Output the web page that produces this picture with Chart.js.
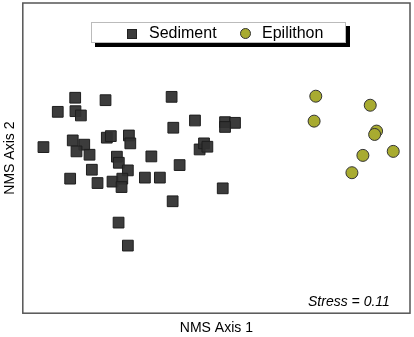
<!DOCTYPE html>
<html>
<head>
<meta charset="utf-8">
<script src="https://cdn.jsdelivr.net/npm/chart.js@4.4.1/dist/chart.umd.min.js"></script>
<style>
    html, body { margin: 0; padding: 0; background: #fff; }
    #wrap { position: relative; width: 414px; height: 337px; font-family: Arial, "Liberation Sans", sans-serif; }
    #legend {
        position: absolute; left: 91px; top: 22px; width: 253px; height: 19px;
        border: 1px solid #bbb; background: #fff; box-shadow: 4px 4px 0 #000;
        font-size: 16px; line-height: 19px; color: #000;
    }
    #legend .item { position: absolute; top: 0; }
    #legend .sq { position: absolute; top: 6px; width: 8px; height: 8px; background: #3c3c3c; border: 1px solid #222; }
    #legend .ci { position: absolute; top: 5px; width: 9px; height: 9px; border-radius: 50%; background: #a8ab30; border: 1px solid #333; }
    #stress { position: absolute; left: 308px; top: 293px; font-size: 14px; font-style: italic; color: #000; }
</style>
</head>
<body>
<div id="wrap">
    <canvas id="c" width="414" height="337"></canvas>
    <div id="legend">
        <span class="sq" style="left:35px"></span>
        <span class="item" style="left:57px">Sediment</span>
        <span class="ci" style="left:148px"></span>
        <span class="item" style="left:170px">Epilithon</span>
    </div>
    <div id="stress">Stress = 0.11</div>
</div>
<script>
    // NMS scores
    const sedimentX = [-1.094, -0.859, -0.347, -1.229, -1.092, -1.050, -0.334, -0.166, 0.067, 0.144,
        0.067, -1.340, -1.113, -1.024, -1.084, -0.983, -0.849, -0.818, -0.678, -0.667,
        -0.504, -0.130, -0.096, -0.070, -0.771, -0.756, -0.686, -0.965, -1.133, -0.921,
        -0.805, -0.729, -0.735, -0.554, -0.438, -0.285, 0.049, -0.339, -0.758, -0.686];
    const sedimentY = [0.467, 0.448, 0.474, 0.358, 0.363, 0.330, 0.235, 0.291, 0.278, 0.273,
        0.241, 0.085, 0.137, 0.104, 0.052, 0.026, 0.158, 0.170, 0.175, 0.114,
        0.013, 0.067, 0.114, 0.088, 0.011, -0.036, -0.095, -0.090, -0.159, -0.193,
        -0.182, -0.159, -0.224, -0.151, -0.151, -0.054, -0.234, -0.334, -0.499, -0.677];
    const epilithonX = [0.770, 1.192, 0.757, 1.241, 1.226, 1.370, 1.135, 1.050];
    const epilithonY = [0.479, 0.409, 0.286, 0.209, 0.183, 0.052, 0.021, -0.113];

    const toPoints = (xs, ys) => xs.map((x, i) => ({ x, y: ys[i] }));

    const frame = {
        id: "frame",
        afterDraw(chart) {
            const { ctx, chartArea: a } = chart;
            ctx.save();
            ctx.strokeStyle = "#555";
            ctx.lineWidth = 1.5;
            ctx.strokeRect(a.left, a.top, a.right - a.left, a.bottom - a.top);
            ctx.restore();
        }
    };

    new Chart(document.getElementById("c"), {
        type: "scatter",
        data: {
            datasets: [
                {
                    label: "Sediment",
                    data: toPoints(sedimentX, sedimentY),
                    pointStyle: "rect",
                    pointRadius: 7.6,
                    backgroundColor: "rgba(50,50,50,0.95)",
                    borderColor: "#1e1e1e",
                    borderWidth: 1
                },
                {
                    label: "Epilithon",
                    data: toPoints(epilithonX, epilithonY),
                    pointStyle: "circle",
                    pointRadius: 6,
                    backgroundColor: "#a8ab30",
                    borderColor: "#333",
                    borderWidth: 1
                }
            ]
        },
        options: {
            responsive: false,
            animation: false,
            layout: { autoPadding: false, padding: { top: 3, right: 4, left: 0, bottom: 0 } },
            plugins: { legend: { display: false }, tooltip: { enabled: false } },
            scales: {
                x: {
                    min: -1.5, max: 1.5,
                    grid: { display: false, drawTicks: false },
                    border: { display: false },
                    ticks: { display: false },
                    title: {
                        display: true, text: "NMS Axis 1", color: "#000",
                        font: { family: "Arial", size: 14 },
                        padding: { top: 7, bottom: 0 }
                    }
                },
                y: {
                    min: -1.2, max: 1.2,
                    grid: { display: false, drawTicks: false },
                    border: { display: false },
                    ticks: { display: false },
                    title: {
                        display: true, text: "NMS Axis 2", color: "#000",
                        font: { family: "Arial", size: 14 },
                        padding: { top: 2, bottom: 4 }
                    }
                }
            }
        },
        plugins: [frame]
    });
</script>
</body>
</html>
